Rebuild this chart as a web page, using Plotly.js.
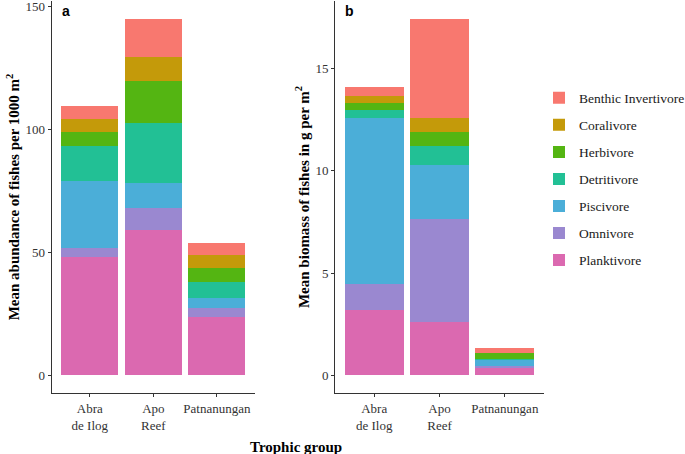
<!DOCTYPE html>
<html>
<head>
<meta charset="utf-8">
<script src="https://cdn.plot.ly/plotly-3.0.1.min.js"></script>
<style>html,body{margin:0;padding:0;background:#fff;}#chart{width:685px;height:454px;}</style>
</head>
<body>
<div id="chart"></div>
<script>
// Sites (x categories)
const sites = ["Abra<br>de Ilog", "Apo<br>Reef", "Patnanungan"];
// Trophic groups in stacking order (bottom to top)
const groups = ["Planktivore", "Omnivore", "Piscivore", "Detritivore", "Herbivore", "Coralivore", "Benthic Invertivore"];
const colors = ["#DB69B0", "#9A88D0", "#4BAED8", "#22C095", "#54B512", "#C49A0A", "#F8786F"];

// Panel a: mean abundance of fishes per 1000 m2 (per site)
const abundPlanktivore = [48.0, 59.1, 23.5];
const abundOmnivore    = [3.8, 9.1, 3.9];
const abundPiscivore   = [27.4, 10.1, 4.0];
const abundDetritivore = [14.3, 24.3, 6.5];
const abundHerbivore   = [5.7, 17.3, 5.8];
const abundCoralivore  = [5.2, 9.5, 5.2];
const abundBenthic     = [5.1, 15.7, 5.0];

// Panel b: mean biomass of fishes in g per m2 (per site)
const bioPlanktivore = [3.19, 2.58, 0.33];
const bioOmnivore    = [1.26, 5.05, 0.13];
const bioPiscivore   = [8.15, 2.66, 0.28];
const bioDetritivore = [0.36, 0.92, 0.03];
const bioHerbivore   = [0.37, 0.72, 0.32];
const bioCoralivore  = [0.35, 0.65, 0.02];
const bioBenthic     = [0.42, 4.87, 0.23];

const abund = [abundPlanktivore, abundOmnivore, abundPiscivore, abundDetritivore, abundHerbivore, abundCoralivore, abundBenthic];
const bio = [bioPlanktivore, bioOmnivore, bioPiscivore, bioDetritivore, bioHerbivore, bioCoralivore, bioBenthic];

const traces = [];
groups.forEach((g, i) => {
  traces.push({
    type: "bar", x: sites, y: abund[i], name: g, legendgroup: g, legendrank: 100 - i,
    marker: {color: colors[i], line: {width: 0}},
    xaxis: "x", yaxis: "y", showlegend: true, hoverinfo: "name+y"
  });
});
groups.forEach((g, i) => {
  traces.push({
    type: "bar", x: sites, y: bio[i], name: g, legendgroup: g, legendrank: 100 - i,
    marker: {color: colors[i], line: {width: 0}},
    xaxis: "x2", yaxis: "y2", showlegend: false, hoverinfo: "name+y"
  });
});

const serif = "Liberation Serif, Times New Roman, serif";
const tickFont = {family: serif, size: 13, color: "#333333"};
const titleFont = {family: serif, size: 15, color: "#000000"};

const xCommon = {
  type: "category", range: [-0.6, 2.6], showline: true, linecolor: "#333333", linewidth: 1,
  ticks: "outside", ticklen: 3, tickcolor: "#333333", showgrid: false, zeroline: false,
  tickfont: tickFont, fixedrange: true
};
const yCommon = {
  showline: true, linecolor: "#333333", linewidth: 1, ticks: "outside", ticklen: 3,
  tickcolor: "#333333", showgrid: false, zeroline: false, tickfont: tickFont, fixedrange: true,
  ticklabeloverflow: "allow"
};

const layout = {
  width: 685, height: 454,
  margin: {l: 0, r: 0, t: 1, b: 61, autoexpand: false},
  paper_bgcolor: "#ffffff", plot_bgcolor: "#ffffff",
  barmode: "stack", bargap: 0.1,
  font: {family: serif, color: "#000"},
  xaxis: Object.assign({}, xCommon, {domain: [51.7/685, 255/685], anchor: "y"}),
  xaxis2: Object.assign({}, xCommon, {domain: [335/685, 544/685], anchor: "y2"}),
  yaxis: Object.assign({}, yCommon, {
    domain: [0, 1], anchor: "x", range: [-7.26, 152.4], tickvals: [0, 50, 100, 150],
    title: {text: "<b>Mean abundance of fishes per 1000 m<sup>2</sup></b>", font: titleFont, standoff: 2}
  }),
  yaxis2: Object.assign({}, yCommon, {
    domain: [0, 1], anchor: "x2", range: [-0.873, 18.32], tickvals: [0, 5, 10, 15],
    title: {text: "<b>Mean biomass of fishes in g per m<sup>2</sup></b>", font: titleFont, standoff: 2}
  }),
  showlegend: true,
  legend: {
    x: 539/685, xanchor: "left", y: 0.792, yanchor: "top",
    traceorder: "grouped", tracegroupgap: 6.5,
    font: {family: serif, size: 13.5, color: "#1a1a1a"},
    bgcolor: "rgba(0,0,0,0)", borderwidth: 0
  },
  annotations: [
    {text: "<b>Trophic group</b>", xref: "paper", yref: "paper", x: 296/685, y: -0.137,
     xanchor: "center", yanchor: "middle", showarrow: false, font: titleFont},
    {text: "<b>a</b>", xref: "paper", yref: "paper", x: 60/685, y: 1.0,
     xanchor: "left", yanchor: "top", showarrow: false,
     font: {family: "Liberation Sans, Arial, sans-serif", size: 14, color: "#000"}},
    {text: "<b>b</b>", xref: "paper", yref: "paper", x: 343/685, y: 1.0,
     xanchor: "left", yanchor: "top", showarrow: false,
     font: {family: "Liberation Sans, Arial, sans-serif", size: 14, color: "#000"}}
  ]
};

Plotly.newPlot("chart", traces, layout, {displayModeBar: false, staticPlot: true});
</script>
</body>
</html>
